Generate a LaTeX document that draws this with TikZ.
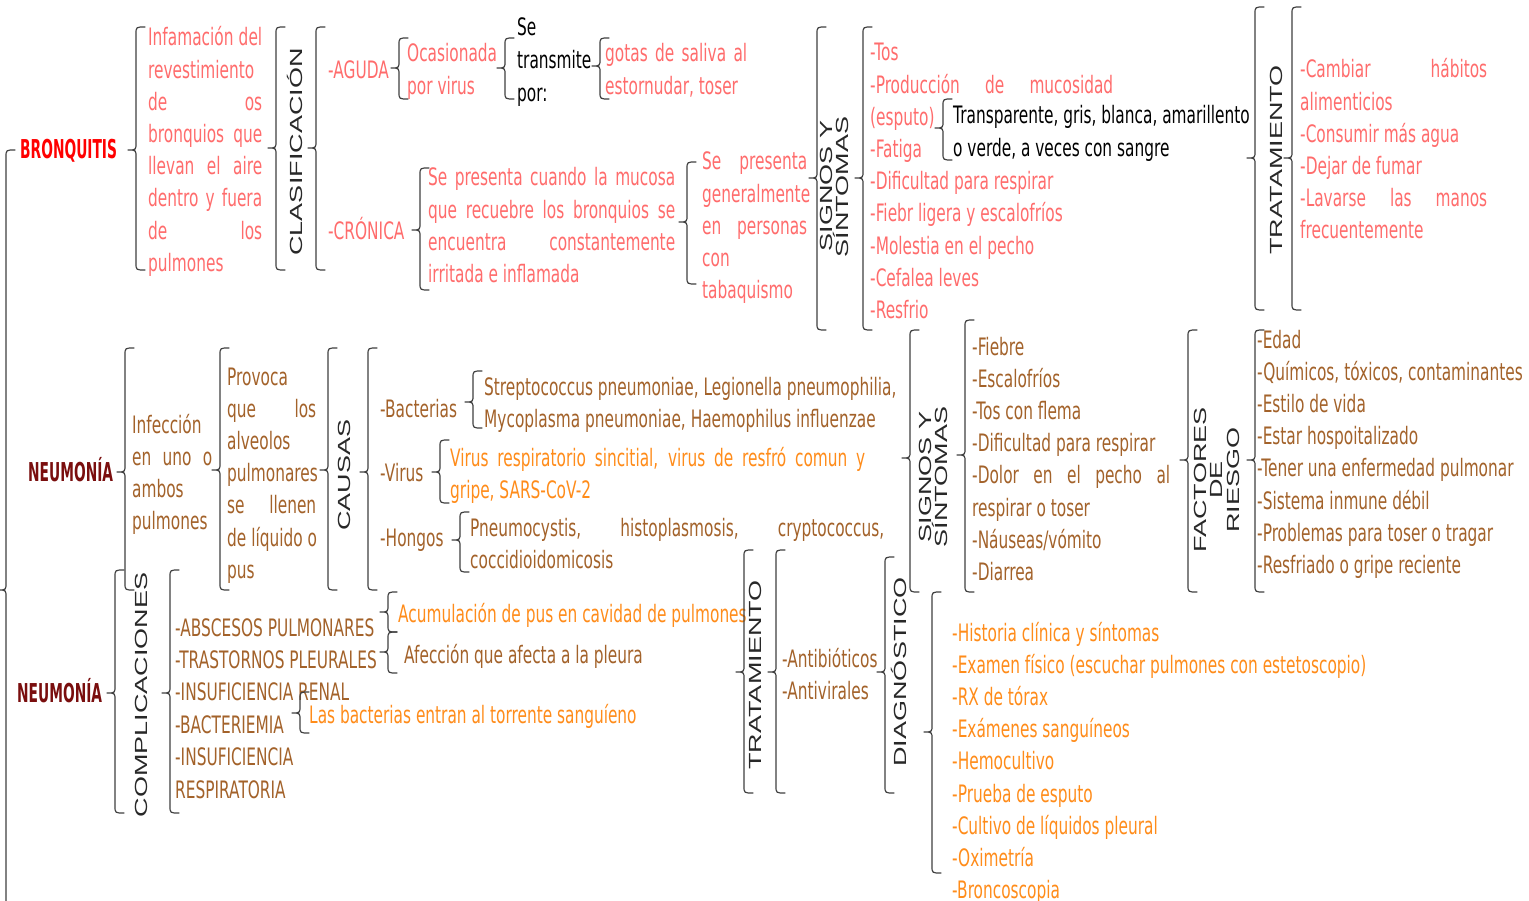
\documentclass[tikz,border=0pt]{standalone}
\usepackage{fontspec}
\usepackage{graphicx}
\setmainfont{DejaVu Sans}[FakeStretch=0.64]
\newfontfamily\boldf{DejaVu Sans}[FakeStretch=0.53]
\newfontfamily\rotf{Liberation Sans}
\definecolor{pinkt}{RGB}{255,108,108}
\definecolor{redt}{RGB}{255,0,0}
\definecolor{brownt}{RGB}{163,98,42}
\definecolor{maroont}{RGB}{122,14,14}
\definecolor{oranget}{RGB}{255,140,26}
\definecolor{braceg}{RGB}{64,64,64}
\definecolor{rotg}{RGB}{40,40,40}
\newcommand\mainf{\fontsize{24}{32.2}\selectfont}
\newcommand\jst[2]{\makebox[#1pt][s]{#2}}
\newcommand\sq[1]{\scalebox{1}[0.65]{#1}}
\newcommand\mybrace[4]{\draw[bracestyle] ({#1+9},#2) .. controls (#1,#2) .. (#1,{#2+7}) -- (#1,{#3-7}) .. controls (#1,#3) .. ({#1-8},#3) .. controls (#1,#3) .. (#1,{#3+7}) -- (#1,{#4-7}) .. controls (#1,#4) .. ({#1+9},#4);}
\begin{document}
\begin{tikzpicture}[x=1pt,y=-1pt,
  txt/.style={font=\mainf, align=left, inner sep=0pt, anchor=base west},
  pk/.style={txt, text=pinkt},
  bk/.style={txt, text=black},
  br/.style={txt, text=brownt},
  og/.style={txt, text=oranget},
  head/.style={txt, font=\boldf\bfseries\fontsize{26}{30}\selectfont},
  rotlab/.style={rotate=90, inner sep=0pt, anchor=base, text=rotg, font=\rotf\fontsize{27}{30}\selectfont},
  bracestyle/.style={draw=braceg, line width=1.2pt, line cap=round, line join=round}]
\path[use as bounding box] (0,0) rectangle (1529,901);
\clip (0,0) rectangle (1529,901);
\fill[white] (0,0) rectangle (1529,901);
% note: the base anchor of a multi-line node is the baseline of its last line

% ---------------- BRONQUITIS ----------------
\node[head, text=redt] (bron) at (20,159) {BRONQUITIS};
\node[pk] (bdef) at (148,271.4) {\jst{114}{Infamación del}\\revestimiento\\\jst{114}{de os}\\\jst{114}{bronquios que}\\\jst{114}{llevan el aire}\\\jst{114}{dentro y fuera}\\\jst{114}{de los}\\pulmones};
\node[rotlab] (clas) at (302,152) {\sq{CLASIFICACIÓN}};
\node[pk] (aguda) at (328,79) {-AGUDA};
\node[pk, font=\fontsize{24}{33}\selectfont] (ocas) at (407,95) {Ocasionada\\por virus};
\node[bk, font=\fontsize{24}{33}\selectfont] (trans) at (517,102) {Se\\transmite\\por:};
\node[pk, font=\fontsize{24}{33}\selectfont] (gotas) at (605,95) {\jst{142}{gotas de saliva al}\\estornudar, toser};
\node[pk] (cron) at (328,240) {-CRÓNICA};
\node[pk] (crond) at (428,282.6) {\jst{247}{Se presenta cuando la mucosa}\\\jst{247}{que recuebre los bronquios se}\\\jst{247}{encuentra constantemente}\\irritada e inflamada};
\node[pk] (taba) at (702,298.8) {\jst{105}{Se presenta}\\generalmente\\\jst{105}{en personas}\\con\\tabaquismo};
\node[rotlab] (sg1a) at (832,186) {\sq{SIGNOS Y}};
\node[rotlab] (sg1b) at (848,187) {\sq{SÍNTOMAS}};
\node[pk] (sig1) at (870,318.6) {-Tos\\\jst{243}{-Producción de mucosidad}\\(esputo)\\-Fatiga\\-Dificultad para respirar\\-Fiebr ligera y escalofríos\\-Molestia en el pecho\\-Cefalea leves\\-Resfrio};
\node[bk] (esp) at (953,156.2) {Transparente, gris, blanca, amarillento\\o verde, a veces con sangre};
\node[rotlab] (tr1) at (1282,160) {\sq{TRATAMIENTO}};
\node[pk] (trat1) at (1300,239) {\jst{187}{-Cambiar hábitos}\\alimenticios\\-Consumir más agua\\-Dejar de fumar\\\jst{187}{-Lavarse las manos}\\frecuentemente};

% ---------------- NEUMONIA 1 ----------------
\node[head, text=maroont] (neu1) at (28,481) {NEUMONÍA};
\node[br] (inf) at (132,529.6) {Infección\\\jst{80}{en uno o}\\ambos\\pulmones};
\node[br] (prov) at (227,578.2) {Provoca\\\jst{89}{que los}\\alveolos\\pulmonares\\\jst{89}{se llenen}\\de líquido o\\pus};
\node[rotlab] (caus) at (350,475) {\sq{CAUSAS}};
\node[br] (bact) at (380,417) {-Bacterias};
\node[br] (vir) at (380,481) {-Virus};
\node[br] (hong) at (380,546) {-Hongos};
\node[br] (bactd) at (484,427.2) {Streptococcus pneumoniae, Legionella pneumophilia,\\Mycoplasma pneumoniae, Haemophilus influenzae};
\node[og] (vird) at (450,498.2) {\jst{415}{Virus respiratorio sincitial, virus de resfró comun y}\\gripe, SARS-CoV-2};
\node[br] (hongd) at (470,568.2) {\jst{414}{Pneumocystis, histoplasmosis, cryptococcus,}\\coccidioidomicosis};
\node[rotlab] (sg2a) at (931,477) {\sq{SIGNOS Y}};
\node[rotlab] (sg2b) at (947,477) {\sq{SÍNTOMAS}};
\node[br] (sig2) at (972,580.4) {-Fiebre\\-Escalofríos\\-Tos con flema\\-Dificultad para respirar\\\jst{198}{-Dolor en el pecho al}\\respirar o toser\\-Náuseas/vómito\\-Diarrea};
\node[rotlab] (fa) at (1206,480) {\sq{FACTORES}};
\node[rotlab] (fb) at (1222,480) {\sq{DE}};
\node[rotlab] (fc) at (1239,480) {\sq{RIESGO}};
\node[br] (fact) at (1257,573.4) {-Edad\\-Químicos, tóxicos, contaminantes\\-Estilo de vida\\-Estar hospoitalizado\\-Tener una enfermedad pulmonar\\-Sistema inmune débil\\-Problemas para toser o tragar\\-Resfriado o gripe reciente};

% ---------------- NEUMONIA 2 ----------------
\node[head, text=maroont] (neu2) at (17,702) {NEUMONÍA};
\node[rotlab] (comp) at (147,695) {\sq{COMPLICACIONES}};
\node[br, font=\fontsize{24}{32.4}\selectfont] (compl) at (175,798) {-ABSCESOS PULMONARES\\-TRASTORNOS PLEURALES\\-INSUFICIENCIA RENAL\\-BACTERIEMIA\\-INSUFICIENCIA\\RESPIRATORIA};
\node[og] (acum) at (398,622) {Acumulación de pus en cavidad de pulmones};
\node[br] (afec) at (404,663) {Afección que afecta a la pleura};
\node[og] (bacs) at (309,723) {Las bacterias entran al torrente sanguíeno};
\node[rotlab] (tr2) at (761,675) {\sq{TRATAMIENTO}};
\node[br] (anti) at (782,699.2) {-Antibióticos\\-Antivirales};
\node[rotlab] (diag) at (906,672) {\sq{DIAGNÓSTICO}};
\node[og] (diagl) at (952,898.6) {-Historia clínica y síntomas\\-Examen físico (escuchar pulmones con estetoscopio)\\-RX de tórax\\-Exámenes sanguíneos\\-Hemocultivo\\-Prueba de esputo\\-Cultivo de líquidos pleural\\-Oximetría\\-Broncoscopia};

% ---------------- BRACES ----------------
\mybrace{6}{150}{590}{1030}
\mybrace{136}{27}{150}{270}
\mybrace{276}{27}{148}{270}
\mybrace{316}{27}{148}{270}
\mybrace{399}{38}{68}{99}
\mybrace{505}{38}{68}{99}
\mybrace{600}{38}{66}{99}
\mybrace{420}{168}{230}{290}
\mybrace{687}{162}{222}{284}
\mybrace{817}{27}{178}{330}
\mybrace{863}{27}{178}{330}
\mybrace{943}{99}{128}{160}
\mybrace{1255}{7}{158}{310}
\mybrace{1292}{7}{158}{310}
\mybrace{125}{348}{472}{590}
\mybrace{220}{348}{470}{590}
\mybrace{328}{348}{470}{590}
\mybrace{368}{348}{472}{590}
\mybrace{473}{371}{402}{428}
\mybrace{440}{440}{472}{503}
\mybrace{460}{512}{540}{572}
\mybrace{910}{330}{458}{592}
\mybrace{965}{320}{455}{592}
\mybrace{1188}{330}{460}{592}
\mybrace{1255}{330}{460}{592}
\mybrace{115}{570}{693}{813}
\mybrace{170}{570}{693}{813}
\mybrace{388}{592}{612}{632}
\mybrace{388}{632}{652}{673}
\mybrace{300}{692}{713}{733}
\mybrace{744}{550}{672}{793}
\mybrace{776}{550}{672}{793}
\mybrace{885}{557}{672}{793}
\mybrace{932}{592}{732}{873}
\end{tikzpicture}
\end{document}
